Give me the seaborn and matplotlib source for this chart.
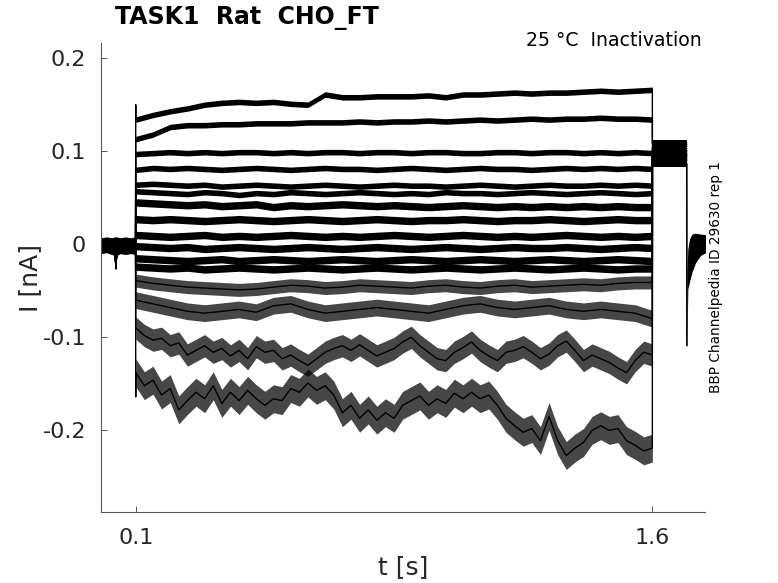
import numpy as np
import pandas as pd
import matplotlib
matplotlib.use("Agg")
import matplotlib.pyplot as plt
import seaborn as sns

sns.set_theme(style="white")
plt.rcParams['font.family'] = ['DejaVu Sans']
plt.rcParams['axes.unicode_minus'] = False

# ---------------- data ----------------
# holding period before the step (all sweeps overlap here)
pre_t = [0.000, 0.015, 0.030, 0.040, 0.0425, 0.045, 0.055, 0.070, 0.085, 0.0995]
pre_i = [-0.002, -0.001, -0.003, -0.004, -0.026, -0.004, -0.002, -0.001, -0.002, -0.002]
pre_hi = [0.007, 0.008, 0.007, 0.008, 0.008, 0.008, 0.007, 0.008, 0.007, 0.008]
pre_lo = [-0.010, -0.009, -0.011, -0.012, -0.026, -0.012, -0.010, -0.011, -0.010, -0.011]

# test pulse sampling times
t_step = np.linspace(0.10, 1.60, 31)
t_fine = np.linspace(0.10, 1.60, 61)

T1 = [0.134, 0.139, 0.143, 0.146, 0.150, 0.152, 0.153, 0.152, 0.153, 0.151, 0.150,
      0.161, 0.158, 0.158, 0.159, 0.159, 0.159, 0.160, 0.158, 0.161, 0.161, 0.162,
      0.163, 0.162, 0.163, 0.163, 0.164, 0.165, 0.164, 0.165, 0.166]
T2 = [0.113, 0.118, 0.126, 0.128, 0.128, 0.129, 0.129, 0.130, 0.130, 0.130, 0.131,
      0.131, 0.131, 0.132, 0.131, 0.132, 0.132, 0.133, 0.132, 0.133, 0.134, 0.133,
      0.134, 0.135, 0.134, 0.135, 0.135, 0.136, 0.135, 0.135, 0.134]
T3 = [0.097, 0.098, 0.099, 0.098, 0.099, 0.098, 0.099, 0.099, 0.098, 0.099, 0.098,
      0.099, 0.099, 0.098, 0.099, 0.099, 0.098, 0.099, 0.099, 0.098, 0.098, 0.099,
      0.099, 0.098, 0.099, 0.099, 0.098, 0.099, 0.098, 0.099, 0.098]
T4 = [0.080, 0.082, 0.081, 0.082, 0.081, 0.080, 0.081, 0.082, 0.081, 0.080, 0.081,
      0.082, 0.081, 0.081, 0.080, 0.081, 0.082, 0.081, 0.080, 0.081, 0.082, 0.081,
      0.081, 0.080, 0.081, 0.082, 0.081, 0.082, 0.081, 0.082, 0.081]
T5 = [0.064, 0.065, 0.064, 0.063, 0.064, 0.062, 0.063, 0.064, 0.063, 0.062, 0.063,
      0.064, 0.063, 0.062, 0.063, 0.064, 0.063, 0.063, 0.062, 0.063, 0.064, 0.063,
      0.062, 0.063, 0.064, 0.063, 0.063, 0.064, 0.063, 0.064, 0.063]
T6 = [0.057, 0.056, 0.055, 0.054, 0.056, 0.055, 0.053, 0.055, 0.054, 0.056, 0.055,
      0.054, 0.055, 0.056, 0.055, 0.054, 0.055, 0.054, 0.056, 0.055, 0.055, 0.054,
      0.055, 0.056, 0.055, 0.054, 0.055, 0.056, 0.055, 0.054, 0.055]
T7 = [0.045, 0.044, 0.043, 0.042, 0.043, 0.041, 0.042, 0.043, 0.040, 0.042, 0.041,
      0.042, 0.043, 0.042, 0.041, 0.042, 0.041, 0.040, 0.041, 0.042, 0.041, 0.040,
      0.041, 0.040, 0.041, 0.040, 0.041, 0.040, 0.041, 0.040, 0.040]
T8 = [0.027, 0.026, 0.027, 0.026, 0.025, 0.026, 0.027, 0.026, 0.025, 0.026, 0.027,
      0.026, 0.025, 0.026, 0.027, 0.026, 0.025, 0.026, 0.026, 0.027, 0.026, 0.025,
      0.026, 0.026, 0.027, 0.026, 0.025, 0.026, 0.027, 0.026, 0.026]
T9 = [0.010, 0.009, 0.008, 0.009, 0.010, 0.008, 0.009, 0.008, 0.009, 0.010, 0.009,
      0.008, 0.009, 0.008, 0.009, 0.010, 0.009, 0.008, 0.009, 0.010, 0.009, 0.008,
      0.009, 0.008, 0.009, 0.010, 0.009, 0.008, 0.009, 0.008, 0.009]
T10 = [-0.002, -0.003, -0.004, -0.003, -0.005, -0.004, -0.003, -0.004, -0.005, -0.004, -0.003,
       -0.004, -0.005, -0.004, -0.003, -0.004, -0.005, -0.004, -0.003, -0.004, -0.005, -0.004,
       -0.003, -0.004, -0.004, -0.003, -0.004, -0.005, -0.004, -0.003, -0.004]
T11 = [-0.015, -0.016, -0.017, -0.018, -0.017, -0.016, -0.018, -0.017, -0.016, -0.017, -0.018,
       -0.017, -0.016, -0.017, -0.018, -0.017, -0.016, -0.017, -0.018, -0.017, -0.016, -0.017,
       -0.018, -0.017, -0.016, -0.017, -0.018, -0.017, -0.016, -0.017, -0.018]
T12 = [-0.024, -0.025, -0.026, -0.025, -0.027, -0.026, -0.025, -0.026, -0.027, -0.026, -0.025,
       -0.026, -0.027, -0.026, -0.025, -0.026, -0.027, -0.026, -0.025, -0.026, -0.027, -0.026,
       -0.025, -0.026, -0.027, -0.026, -0.025, -0.026, -0.027, -0.026, -0.026]
T13 = [-0.039, -0.042, -0.044, -0.046, -0.047, -0.048, -0.049, -0.048, -0.046, -0.044, -0.045,
       -0.047, -0.046, -0.044, -0.045, -0.046, -0.047, -0.045, -0.044, -0.046, -0.047, -0.045,
       -0.044, -0.046, -0.045, -0.044, -0.043, -0.044, -0.042, -0.041, -0.041]
T14 = [-0.060, -0.064, -0.068, -0.072, -0.074, -0.072, -0.070, -0.073, -0.066, -0.064, -0.070,
       -0.074, -0.072, -0.070, -0.068, -0.070, -0.072, -0.074, -0.070, -0.066, -0.064, -0.068,
       -0.070, -0.068, -0.066, -0.070, -0.072, -0.070, -0.072, -0.074, -0.080]
T15 = [-0.090, -0.098, -0.103, -0.101, -0.109, -0.106, -0.119, -0.114, -0.109, -0.116, -0.112,
       -0.120, -0.114, -0.123, -0.110, -0.116, -0.114, -0.123, -0.119, -0.125, -0.130, -0.123,
       -0.116, -0.112, -0.109, -0.114, -0.108, -0.114, -0.120, -0.116, -0.112, -0.105, -0.100,
       -0.109, -0.116, -0.123, -0.125, -0.116, -0.111, -0.105, -0.114, -0.120, -0.125, -0.116,
       -0.114, -0.110, -0.116, -0.123, -0.118, -0.109, -0.104, -0.114, -0.125, -0.119, -0.123,
       -0.127, -0.133, -0.138, -0.125, -0.116, -0.119]
T16 = [-0.138, -0.152, -0.146, -0.162, -0.155, -0.178, -0.168, -0.159, -0.166, -0.152, -0.171,
       -0.159, -0.168, -0.157, -0.166, -0.173, -0.166, -0.168, -0.155, -0.159, -0.149, -0.157,
       -0.152, -0.162, -0.181, -0.173, -0.187, -0.178, -0.189, -0.181, -0.187, -0.173, -0.168,
       -0.163, -0.173, -0.166, -0.171, -0.160, -0.166, -0.159, -0.166, -0.162, -0.173, -0.187,
       -0.195, -0.202, -0.198, -0.211, -0.185, -0.211, -0.227, -0.219, -0.213, -0.200, -0.195,
       -0.200, -0.198, -0.211, -0.216, -0.222, -0.219]

sweeps = [T1, T2, T3, T4, T5, T6, T7, T8, T9, T10, T11, T12, T13, T14, T15, T16]
onset = [0.150, 0.113, 0.097, 0.080, 0.064, 0.057, 0.045, 0.027, 0.010, -0.002, -0.015,
         -0.024, -0.039, -0.060, -0.090, -0.164]
noise_hw = [0.003, 0.003, 0.003, 0.003, 0.003, 0.003, 0.004, 0.004, 0.004, 0.004, 0.004,
            0.004, 0.007, 0.009, 0.012, 0.015]
tail_level = [0.109, 0.107, 0.105, 0.103, 0.101, 0.100, 0.098, 0.097, 0.096, 0.095, 0.094,
              0.093, 0.091, 0.090, 0.088, 0.086]
tail_hw = 0.003
tail_end = 1.700

# recovery after the second step
rec_t = [1.7003, 1.703, 1.708, 1.715, 1.725, 1.740, 1.760]
rec_lo = [-0.109, -0.048, -0.040, -0.030, -0.020, -0.012, -0.008]
rec_hi = [-0.030, -0.005, 0.006, 0.011, 0.012, 0.011, 0.010]

# ---------------- long-form table ----------------
rows = []
for k, vals in enumerate(sweeps):
    tt = t_fine if len(vals) == len(t_fine) else t_step
    name = f"sweep{k + 1}"
    pts = list(zip(pre_t, pre_i)) + [(0.1, onset[k])] + list(zip(tt, vals)) + \
        [(1.6, tail_level[k]), (tail_end, tail_level[k])]
    for order, (t, i) in enumerate(pts):
        rows.append({"sweep": name, "order": order, "t": t, "I": i})
df = pd.DataFrame(rows)

# ---------------- figure ----------------
fig = plt.figure(figsize=(7.78, 5.83), dpi=100)
ax = fig.add_axes([0.1302, 0.1213, 0.7756, 0.8044])

sns.lineplot(data=df, x="t", y="I", units="sweep", estimator=None, sort=False,
             color="black", linewidth=1.0, legend=False, ax=ax)

# noise envelopes
ax.fill_between(pre_t, pre_lo, pre_hi, color="black", lw=0)
for k, vals in enumerate(sweeps):
    tt = t_fine if len(vals) == len(t_fine) else t_step
    v = np.array(vals)
    a = 1.0 if noise_hw[k] <= 0.006 else 0.72
    ax.fill_between(tt, v - noise_hw[k], v + noise_hw[k], color="black", lw=0, alpha=a)
    ax.fill_between([1.6, tail_end], tail_level[k] - tail_hw, tail_level[k] + tail_hw,
                    color="black", lw=0)

ax.plot([tail_end, rec_t[0]], [tail_level[-1], rec_lo[0]], color="black", lw=1.2)
ax.fill_between(rec_t, rec_lo, rec_hi, color="black", lw=0)

ax.set_xlim(0.0, 1.752)
ax.set_ylim(-0.288, 0.216)

ax.set_xticks([0.1, 1.6])
ax.set_xticklabels(["0.1", "1.6"])
ax.set_yticks([-0.2, -0.1, 0, 0.1, 0.2])
ax.set_yticklabels(["-0.2", "-0.1", "0", "0.1", "0.2"])

ax.tick_params(left=True, bottom=True, direction="in", length=4.5, width=0.7,
               color="#555555", labelsize=16, labelcolor="#262626", pad=11)
for s in ["top", "right"]:
    ax.spines[s].set_visible(False)
for s in ["left", "bottom"]:
    ax.spines[s].set_color("#555555")
    ax.spines[s].set_linewidth(0.8)

ax.set_xlabel("t [s]", fontsize=18, color="#262626")
ax.set_ylabel("I [nA]", fontsize=18, color="#262626")
ax.xaxis.label.set_va("center")
ax.yaxis.label.set_va("center")
ax.xaxis.set_label_coords(0.5, (583 - 567 - 70.7) / 469.0)
ax.yaxis.set_label_coords((30 - 101.3) / 603.4, 0.5)

fig.text(115 / 778, 1 - 17.5 / 583, "TASK1  Rat  CHO_FT", fontsize=17,
         fontweight="bold", ha="left", va="center", color="black")
fig.text(702 / 778, 1 - 41 / 583, "25 °C  Inactivation", fontsize=13.6,
         ha="right", va="center", color="black")
fig.text(716 / 778, 1 - 277.5 / 583, "BBP Channelpedia ID 29630 rep 1", rotation=90,
         fontsize=9.8, ha="center", va="center", color="black")

fig.savefig("out.png", dpi=100)
